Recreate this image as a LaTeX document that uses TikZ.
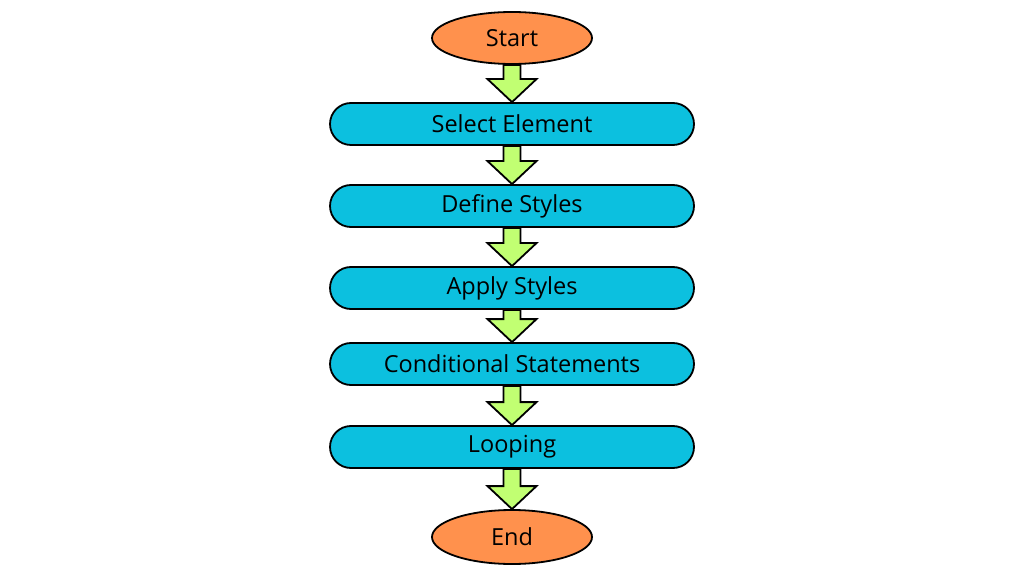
\documentclass[tikz,border=0pt]{standalone}
\usepackage{fontspec}
\setmainfont{Open Sans}
\usetikzlibrary{shapes.geometric,calc}
\definecolor{termfill}{HTML}{FF914D}
\definecolor{procfill}{HTML}{0CC0DF}
\definecolor{arrfill}{HTML}{C1FF72}
\tikzset{
  term/.style={ellipse, draw=black, line width=1.8pt, fill=termfill, minimum width=160pt, minimum height=52pt, inner sep=0pt, font=\fontsize{23.5}{28}\selectfont},
  proc/.style={rectangle, rounded corners=21pt, draw=black, line width=1.8pt, fill=procfill, minimum width=364pt, minimum height=42pt, inner sep=0pt, font=\fontsize{23.5}{28}\selectfont},
  blockarr/.style={draw=black, line width=1.8pt, fill=arrfill, line join=miter}
}
\newcommand{\blockarrow}[2]{%
  \draw[blockarr] let \p1=(#1.south), \p2=(#2.north) in
    (\x1-8.5pt,\y1) -- (\x1+8.5pt,\y1) -- (\x1+8.5pt,\y2+23pt) -- (\x1+24.5pt,\y2+23pt)
    -- (\x2,\y2) -- (\x1-24.5pt,\y2+23pt) -- (\x1-8.5pt,\y2+23pt) -- cycle;}
\begin{document}
\begin{tikzpicture}[x=1pt,y=1pt]
\useasboundingbox[fill=white] (0,0) rectangle (1024,576);
\node[term] (start) at (512,538) {Start};
\node[proc] (select) at (512,452) {Select Element};
\node[proc] (define) at (512,370) {Define Styles};
\node[proc] (apply) at (512,288) {Apply Styles};
\node[proc] (cond) at (512,212) {Conditional Statements};
\node[proc] (loop) at (512,129) {Looping};
\node[term, minimum height=54pt] (end) at (512,39) {End};
\blockarrow{start}{select}
\blockarrow{select}{define}
\blockarrow{define}{apply}
\blockarrow{apply}{cond}
\blockarrow{cond}{loop}
\blockarrow{loop}{end}
\end{tikzpicture}
\end{document}
